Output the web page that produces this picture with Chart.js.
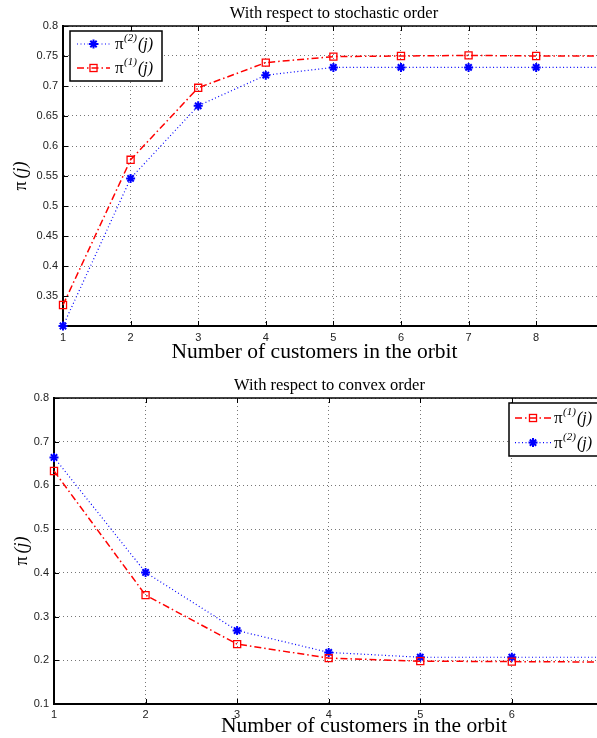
<!DOCTYPE html>
<html><head><meta charset="utf-8">
<script src="https://cdn.jsdelivr.net/npm/chart.js@4.4.1/dist/chart.umd.min.js"></script>
<style>
html,body{margin:0;padding:0;background:#fff;width:597px;height:738px;overflow:hidden}
.box{position:absolute;left:0;width:597px}
#b1{top:0;height:370px}
#b2{top:370px;height:368px}
</style></head><body>
<div class="box" id="b1"><canvas id="c1"></canvas></div>
<div class="box" id="b2"><canvas id="c2"></canvas></div>
<script>
// ---------- data: top chart (stochastic order) ----------
const titleTop = 'With respect to stochastic order';
const customersTop = [1, 2, 3, 4, 5, 6, 7, 8, 9];
const pi1Top = [0.335, 0.577, 0.697, 0.739, 0.749, 0.750, 0.751, 0.750, 0.750];
const pi2Top = [0.300, 0.546, 0.667, 0.718, 0.731, 0.731, 0.731, 0.731, 0.731];
const xTicksTop = [1, 2, 3, 4, 5, 6, 7, 8];
const yTicksTop = [0.3, 0.35, 0.4, 0.45, 0.5, 0.55, 0.6, 0.65, 0.7, 0.75, 0.8];
const yLabelsTop = ['', '0.35', '0.4', '0.45', '0.5', '0.55', '0.6', '0.65', '0.7', '0.75', '0.8'];

// ---------- data: bottom chart (convex order) ----------
const titleBottom = 'With respect to convex order';
const customersBottom = [1, 2, 3, 4, 5, 6, 7];
const pi1Bottom = [0.633, 0.349, 0.237, 0.205, 0.198, 0.197, 0.196];
const pi2Bottom = [0.664, 0.401, 0.268, 0.218, 0.207, 0.207, 0.207];
const xTicksBottom = [1, 2, 3, 4, 5, 6];
const yTicksBottom = [0.1, 0.2, 0.3, 0.4, 0.5, 0.6, 0.7, 0.8];
const yLabelsBottom = ['0.1', '0.2', '0.3', '0.4', '0.5', '0.6', '0.7', '0.8'];

const xAxisTitle = 'Number of customers in the orbit';
const yAxisTitleParts = ['π', '(j)'];
const seriesSup = {pi1: '(1)', pi2: '(2)'};

const SERIF = '"Liberation Serif", "Times New Roman", serif';
const SANS = '"Liberation Sans", Arial, sans-serif';

function pts(xs, ys) { return xs.map((x, i) => ({x: x, y: ys[i]})); }

function blueSet(data) {
  return {label: 'π' + seriesSup.pi2 + '(j)', data: data, borderColor: '#0000ff', borderWidth: 1.2,
    borderDash: [1, 2.5], pointStyle: 'star', pointRadius: 4.5, pointBorderWidth: 2,
    pointBorderColor: '#0000ff', pointBackgroundColor: '#0000ff', tension: 0, fill: false, clip: false, sup: seriesSup.pi2};
}
function redSet(data) {
  return {label: 'π' + seriesSup.pi1 + '(j)', data: data, borderColor: '#ff0000', borderWidth: 1.5,
    borderDash: [7, 3, 1.5, 3], pointStyle: 'rect', pointRadius: 5, pointBorderWidth: 1.3,
    pointBorderColor: '#ff0000', pointBackgroundColor: 'rgba(0,0,0,0)', tension: 0, fill: false, clip: false, sup: seriesSup.pi1};
}

const framePlugin = {
  id: 'frame',
  beforeDatasetsDraw(chart) {
    const {ctx, chartArea: a} = chart;
    const x = chart.scales.x, y = chart.scales.y;
    ctx.save();
    ctx.strokeStyle = '#000';
    ctx.lineWidth = 1.5;
    ctx.beginPath(); ctx.moveTo(a.left, a.top); ctx.lineTo(a.right + 10, a.top); ctx.stroke();
    ctx.lineWidth = 1;
    ctx.beginPath();
    x.ticks.forEach(t => { const p = Math.round(x.getPixelForValue(t.value)) + 0.5;
      ctx.moveTo(p, a.top); ctx.lineTo(p, a.top + 5); ctx.moveTo(p, a.bottom); ctx.lineTo(p, a.bottom - 5); });
    y.ticks.forEach(t => { const p = Math.round(y.getPixelForValue(t.value)) + 0.5;
      ctx.moveTo(a.left, p); ctx.lineTo(a.left + 5, p); });
    ctx.stroke();
    ctx.restore();
  },
  afterDraw(chart, args, o) {
    const {ctx, chartArea: a} = chart;
    ctx.save();
    ctx.fillStyle = '#000'; ctx.textBaseline = 'alphabetic'; ctx.textAlign = 'center';
    // chart title
    ctx.font = '16.5px ' + SERIF;
    ctx.fillText(o.title, o.titleX, o.titleBase);
    // x-axis title
    ctx.font = '21.5px ' + SERIF;
    ctx.fillText(xAxisTitle, o.xTitleX, o.xTitleBase);
    // y-axis title: upright π, italic (j), rotated
    ctx.translate(o.yTitleX, (a.top + a.bottom) / 2);
    ctx.rotate(-Math.PI / 2);
    ctx.textBaseline = 'middle'; ctx.textAlign = 'left';
    ctx.font = '18px ' + SERIF;
    const w0 = ctx.measureText(yAxisTitleParts[0]).width;
    ctx.font = 'italic 18px ' + SERIF;
    const w1 = ctx.measureText(yAxisTitleParts[1]).width;
    const gap = 3;
    let tx = -(w0 + gap + w1) / 2;
    ctx.font = '18px ' + SERIF; ctx.fillText(yAxisTitleParts[0], tx, 0);
    tx += w0 + gap;
    ctx.font = 'italic 18px ' + SERIF; ctx.fillText(yAxisTitleParts[1], tx, 0);
    ctx.restore();
  }
};

function drawMarker(ctx, ds, cx, cy) {
  ctx.save();
  ctx.setLineDash([]);
  ctx.strokeStyle = ds.pointBorderColor;
  ctx.lineWidth = ds.pointBorderWidth;
  const r = ds.pointRadius;
  if (ds.pointStyle === 'star') {
    ctx.beginPath();
    for (let k = 0; k < 4; k++) {
      const ang = k * Math.PI / 4;
      ctx.moveTo(cx - r * Math.cos(ang), cy - r * Math.sin(ang));
      ctx.lineTo(cx + r * Math.cos(ang), cy + r * Math.sin(ang));
    }
    ctx.stroke();
  } else {
    const s = r * Math.SQRT2;
    ctx.strokeRect(cx - s / 2, cy - s / 2, s, s);
  }
  ctx.restore();
}

const legendPlugin = {
  id: 'piLegend',
  afterDraw(chart, args, o) {
    const ctx = chart.ctx;
    ctx.save();
    ctx.fillStyle = '#fff';
    ctx.fillRect(o.x, o.y, o.w, o.h);
    ctx.strokeStyle = '#000'; ctx.lineWidth = 1.5; ctx.setLineDash([]);
    ctx.strokeRect(o.x, o.y, o.w, o.h);
    chart.data.datasets.forEach((ds, i) => {
      const yy = o.y + o.firstRow + i * o.rowGap;
      const x0 = o.x + o.lineX0, x1 = o.x + o.lineX1;
      ctx.save();
      ctx.setLineDash(ds.borderDash);
      ctx.strokeStyle = ds.borderColor; ctx.lineWidth = ds.borderWidth;
      ctx.beginPath(); ctx.moveTo(x0, yy); ctx.lineTo(x1, yy); ctx.stroke();
      ctx.restore();
      drawMarker(ctx, ds, (x0 + x1) / 2, yy);
      let tx = o.x + o.textX;
      const base = yy + 5;
      ctx.fillStyle = '#000'; ctx.textBaseline = 'alphabetic'; ctx.textAlign = 'left';
      ctx.font = '17px ' + SERIF; ctx.fillText('π', tx, base); tx += ctx.measureText('π').width + 0.5;
      ctx.font = 'italic 11px ' + SERIF; ctx.fillText(ds.sup, tx, base - 8); tx += ctx.measureText(ds.sup).width + 1;
      ctx.font = 'italic 16px ' + SERIF; ctx.fillText('(j)', tx, base);
    });
    ctx.restore();
  }
};

function makeChart(id, c) {
  return new Chart(document.getElementById(id), {
    type: 'line',
    data: {datasets: c.datasets},
    plugins: [framePlugin, legendPlugin],
    options: {
      responsive: true, maintainAspectRatio: false, animation: false, events: [],
      layout: {padding: {top: c.topSpace, left: 0, right: 0, bottom: 0}, autoPadding: false},
      plugins: {
        legend: {display: false}, tooltip: {enabled: false}, title: {display: false},
        piLegend: c.legend,
        frame: {title: c.title, titleX: c.titleX, titleBase: c.titleBase,
                xTitleX: c.xTitleX, xTitleBase: c.xTitleBase, yTitleX: c.yTitleX}
      },
      scales: {
        x: {type: 'linear', min: c.xMin, max: c.xMax,
          afterBuildTicks: s => { s.ticks = c.xTicks.map(v => ({value: v})); },
          afterFit: s => { s.height = c.xHeight; s.paddingLeft = 0; s.paddingRight = 0; },
          ticks: {padding: c.xTickPad, color: '#222', font: {family: SANS, size: 11}, maxRotation: 0, autoSkip: false},
          grid: {color: '#777', lineWidth: 1, drawTicks: false},
          border: {display: true, color: '#000', width: 2, dash: [1, 3]},
          title: {display: false}
        },
        y: {type: 'linear', min: c.yMin, max: c.yMax,
          afterBuildTicks: s => { s.ticks = c.yTicks.map(v => ({value: v})); },
          afterFit: s => { s.width = c.yWidth; s.paddingTop = 0; s.paddingBottom = 0; },
          ticks: {padding: 5, color: '#222', font: {family: SANS, size: 11}, callback: (v, i) => c.yLabels[i]},
          grid: {color: '#777', lineWidth: 1, drawTicks: false},
          border: {display: true, color: '#000', width: 2, dash: [1, 3]},
          title: {display: false}
        }
      }
    }
  });
}

makeChart('c1', {
  title: titleTop, titleX: 334, titleBase: 17.5, topSpace: 26,
  datasets: [blueSet(pts(customersTop, pi2Top)), redSet(pts(customersTop, pi1Top))],
  xMin: 1, xMax: 8.9, xTicks: xTicksTop, xHeight: 44, xTickPad: 5, xTitleX: 314.5, xTitleBase: 357.5,
  yMin: 0.3, yMax: 0.8, yTicks: yTicksTop, yLabels: yLabelsTop, yWidth: 63, yTitleX: 21,
  legend: {x: 70, y: 31, w: 92, h: 50, firstRow: 13, rowGap: 24, lineX0: 7, lineX1: 40, textX: 45}
});

makeChart('c2', {
  title: titleBottom, titleX: 329.5, titleBase: 19.5, topSpace: 28,
  datasets: [redSet(pts(customersBottom, pi1Bottom)), blueSet(pts(customersBottom, pi2Bottom))],
  xMin: 1, xMax: 6.93, xTicks: xTicksBottom, xHeight: 34, xTickPad: 4, xTitleX: 364, xTitleBase: 361.5,
  yMin: 0.1, yMax: 0.8, yTicks: yTicksBottom, yLabels: yLabelsBottom, yWidth: 54, yTitleX: 22,
  legend: {x: 509, y: 33, w: 95, h: 53, firstRow: 15, rowGap: 24.6, lineX0: 6, lineX1: 42, textX: 45}
});
</script>
</body></html>
